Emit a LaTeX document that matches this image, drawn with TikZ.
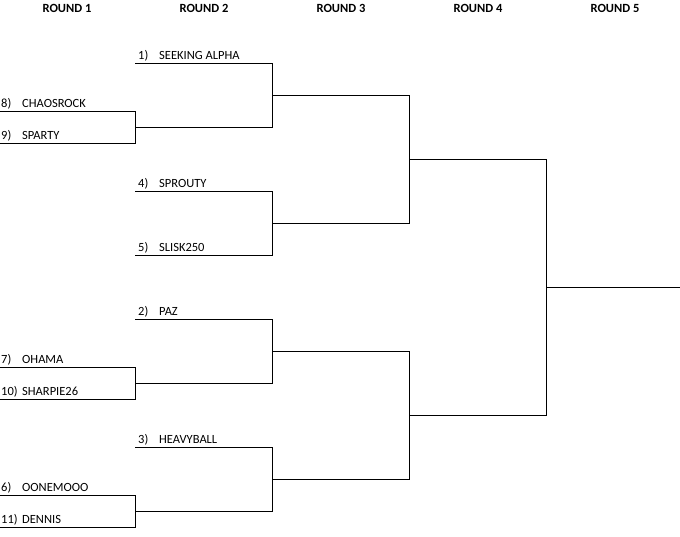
\documentclass[tikz,border=0pt]{standalone}
\usepackage{fontspec}
\setmainfont{Carlito}
\usetikzlibrary{positioning}
\definecolor{bkline}{RGB}{0,0,0}
\newcommand{\seed}[2]{\makebox[21pt][l]{#1)}#2}
\begin{document}
\begin{tikzpicture}[x=1pt, y=-1pt,
    every node/.style={font=\fontsize{12.5}{15}\selectfont, inner sep=0pt},
    head/.style={font=\fontsize{12.5}{15}\selectfont\bfseries, anchor=base},
    team/.style={anchor=base west},
    bline/.style={draw=bkline, line width=1pt}]
  \useasboundingbox (0,0) rectangle (680,536);

  % Column headers
  \node[head] (h1) at (67,12)  {ROUND 1};
  \node[head] (h2) at (204,12) {ROUND 2};
  \node[head] (h3) at (341,12) {ROUND 3};
  \node[head] (h4) at (478,12) {ROUND 4};
  \node[head] (h5) at (615,12) {ROUND 5};

  % Slot starts, round 1
  \coordinate (r1a) at (0,111);
  \coordinate (r1b) at (0,143);
  \coordinate (r1c) at (0,367);
  \coordinate (r1d) at (0,399);
  \coordinate (r1e) at (0,495);
  \coordinate (r1f) at (0,527);
  % Slot starts, round 2
  \coordinate (r2a) at (135,63);
  \coordinate (r2b) at (135,127);
  \coordinate (r2c) at (135,191);
  \coordinate (r2d) at (135,255);
  \coordinate (r2e) at (135,319);
  \coordinate (r2f) at (135,383);
  \coordinate (r2g) at (135,447);
  \coordinate (r2h) at (135,511);
  % Slot starts, rounds 3-5
  \coordinate (r3a) at (272,95);
  \coordinate (r3b) at (272,223);
  \coordinate (r3c) at (272,351);
  \coordinate (r3d) at (272,479);
  \coordinate (r4a) at (409,159);
  \coordinate (r4b) at (409,415);
  \coordinate (r5)  at (546,287);
  \coordinate (fin) at (680,287);

  % Team names
  \node[team] (t8)  at ([xshift=1pt,yshift=3.5pt]r1a) {\seed{8}{CHAOSROCK}};
  \node[team] (t9)  at ([xshift=1pt,yshift=3.5pt]r1b) {\seed{9}{SPARTY}};
  \node[team] (t7)  at ([xshift=1pt,yshift=3.5pt]r1c) {\seed{7}{OHAMA}};
  \node[team] (t10) at ([xshift=1pt,yshift=3.5pt]r1d) {\seed{10}{SHARPIE26}};
  \node[team] (t6)  at ([xshift=1pt,yshift=3.5pt]r1e) {\seed{6}{OONEMOOO}};
  \node[team] (t11) at ([xshift=1pt,yshift=3.5pt]r1f) {\seed{11}{DENNIS}};
  \node[team] (t1)  at ([xshift=3pt,yshift=3.5pt]r2a) {\seed{1}{SEEKING ALPHA}};
  \node[team] (t4)  at ([xshift=3pt,yshift=3.5pt]r2c) {\seed{4}{SPROUTY}};
  \node[team] (t5)  at ([xshift=3pt,yshift=3.5pt]r2d) {\seed{5}{SLISK250}};
  \node[team] (t2)  at ([xshift=3pt,yshift=3.5pt]r2e) {\seed{2}{PAZ}};
  \node[team] (t3)  at ([xshift=3pt,yshift=3.5pt]r2g) {\seed{3}{HEAVYBALL}};

  % Round 1 brackets
  \draw[bline] (r1a) -| (r2b);
  \draw[bline] (r1b) -| (r2b);
  \draw[bline] (r1c) -| (r2f);
  \draw[bline] (r1d) -| (r2f);
  \draw[bline] (r1e) -| (r2h);
  \draw[bline] (r1f) -| (r2h);

  % Round 2 brackets
  \draw[bline] (r2a) -| (r3a);
  \draw[bline] (r2b) -| (r3a);
  \draw[bline] (r2c) -| (r3b);
  \draw[bline] (r2d) -| (r3b);
  \draw[bline] (r2e) -| (r3c);
  \draw[bline] (r2f) -| (r3c);
  \draw[bline] (r2g) -| (r3d);
  \draw[bline] (r2h) -| (r3d);

  % Round 3 and 4 brackets
  \draw[bline] (r3a) -| (r4a);
  \draw[bline] (r3b) -| (r4a);
  \draw[bline] (r3c) -| (r4b);
  \draw[bline] (r3d) -| (r4b);
  \draw[bline] (r4a) -| (r5);
  \draw[bline] (r4b) -| (r5);

  % Final
  \draw[bline] (r5) -- (fin);
\end{tikzpicture}
\end{document}
